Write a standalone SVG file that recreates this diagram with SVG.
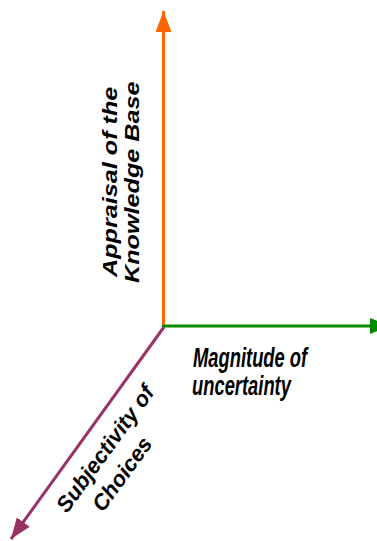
<svg xmlns="http://www.w3.org/2000/svg" width="377" height="541" viewBox="0 0 377 541">
  <style>
    .axis { fill: none; stroke-width: 3; }
    .lbl { font-family: "Liberation Sans", Arial, sans-serif; font-weight: bold; font-style: italic; fill: #000; }
  </style>
  <defs>
    <marker id="headOrange" markerUnits="userSpaceOnUse" markerWidth="22" markerHeight="16" refX="21" refY="8" orient="auto">
      <path d="M0,0 L21,8 L0,16 z" fill="#FF6600"/>
    </marker>
    <marker id="headGreen" markerUnits="userSpaceOnUse" markerWidth="22" markerHeight="16" refX="21" refY="8" orient="auto">
      <path d="M0,0 L21,8 L0,16 z" fill="#008A00"/>
    </marker>
    <marker id="headPurple" markerUnits="userSpaceOnUse" markerWidth="22" markerHeight="16" refX="21" refY="8" orient="auto">
      <path d="M0,0 L21,8 L0,16 z" fill="#993366"/>
    </marker>
  </defs>
  <rect width="377" height="541" fill="#fff"/>

  <g id="connectors">
    <line class="axis" x1="163.5" y1="327" x2="163.5" y2="11" stroke="#FF6600" marker-end="url(#headOrange)"/>
    <line class="axis" x1="162" y1="326" x2="391" y2="326" stroke="#008A00" marker-end="url(#headGreen)"/>
    <line class="axis" x1="164" y1="327" x2="11" y2="539" stroke="#993366" marker-end="url(#headPurple)"/>
  </g>

  <g id="appraisal">
    <text class="lbl" font-size="21" transform="translate(117,277) rotate(-90) scale(1.2,1)">Appraisal of the</text>
    <text class="lbl" font-size="21" transform="translate(139,283) rotate(-90) scale(1.2,1)">Knowledge Base</text>
  </g>

  <g id="magnitude">
    <text class="lbl" font-size="27" transform="translate(193,367) scale(0.68,1)">Magnitude of</text>
    <text class="lbl" font-size="27" transform="translate(192,395) scale(0.68,1)">uncertainty</text>
  </g>

  <g id="subjectivity">
    <text class="lbl" font-size="22" transform="translate(67,514) rotate(-54)">Subjectivity of</text>
    <text class="lbl" font-size="22" transform="translate(103,513) rotate(-54)">Choices</text>
  </g>
</svg>
